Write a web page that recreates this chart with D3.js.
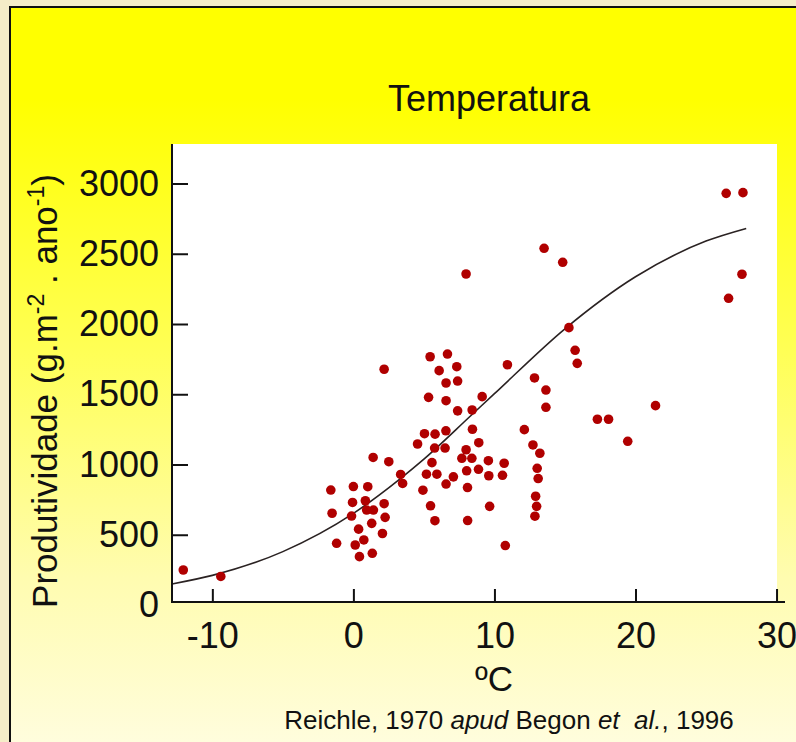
<!DOCTYPE html>
<html>
<head>
<meta charset="utf-8">
<script src="https://cdn.jsdelivr.net/npm/d3@7/dist/d3.min.js"></script>
<style>
body { margin: 0; background: #f5edc8; }
svg text { font-family: "Liberation Sans", Arial, Helvetica, sans-serif; fill: #111; }
</style>
</head>
<body>
<svg id="chart" width="796" height="742"></svg>
<script>
// temperature (ºC) of each site
var temps = [-12.06, -9.40, -1.60, -1.51, -1.19, 0.00, 1.02, -0.06, 0.85, -0.13,
    0.94, 1.42, 2.18, 2.25, 0.37, 1.30, 0.74, 0.13, 2.06, 0.43,
    1.34, 1.40, 2.51, 3.35, 3.49, 4.55, 5.04, 5.79, 6.56, 5.76,
    6.50, 5.57, 5.18, 5.92, 7.09, 6.57, 4.93, 5.47, 5.78, 8.10,
    8.09, 8.03, 8.87, 7.99, 7.69, 8.40, 8.89, 8.44, 5.33, 6.57,
    7.39, 6.57, 7.39, 2.18, 5.44, 6.67, 6.08, 7.33, 9.13, 8.42,
    9.57, 10.69, 9.60, 10.57, 9.66, 10.77, 12.12, 12.73, 13.22, 13.03,
    13.10, 12.92, 12.99, 12.87, 12.84, 13.65, 13.65, 10.92, 13.52, 14.84,
    15.28, 15.72, 15.87, 7.99, 17.30, 18.09, 19.45, 21.42, 26.43, 27.62,
    27.55, 26.60];
// productivity (g.m-2.ano-1)
var prods = [249, 203, 818, 653, 439, 843, 842, 730, 742, 633,
    676, 676, 721, 624, 540, 581, 463, 427, 509, 344,
    368, 1050, 1020, 929, 865, 1146, 1219, 1216, 1240, 1117,
    1117, 1013, 931, 931, 912, 861, 817, 706, 600, 601,
    836, 955, 966, 1105, 1044, 1044, 1155, 1251, 1478, 1454,
    1382, 1580, 1594, 1678, 1767, 1786, 1668, 1696, 1483, 1388,
    1027, 1009, 920, 923, 702, 423, 1248, 1139, 1080, 973,
    900, 774, 702, 632, 1616, 1530, 1407, 1710, 2539, 2439,
    1974, 1813, 1720, 2356, 1322, 1322, 1165, 1419, 2930, 2935,
    2354, 2183];
// fitted curve
var curveTemps = [-12.86, -10, -5, 0, 3.4, 5, 8.3, 10, 15, 20, 25, 27.85];
var curveProds = [150, 211, 380, 652, 905, 1038, 1345, 1504, 1966, 2336, 2590, 2680];

var xTicks = [-10, 0, 10, 20, 30];
var yTicks = [0, 500, 1000, 1500, 2000, 2500, 3000];

var svg = d3.select('#chart');
var W = 796, H = 742;

var x = d3.scaleLinear().domain([-12.86, 30.6]).range([172, 785]);
var y = d3.scaleLinear().domain([0, 3000]).range([605, 183.5]);
var axisY = 602, plotTop = 144, plotRight = 777;

// backdrop panel
var defs = svg.append('defs');
var grad = defs.append('linearGradient').attr('id', 'panelGrad')
    .attr('x1', 0).attr('y1', 0).attr('x2', 0).attr('y2', 1);
[[0, '#ffff00'], [0.12, '#ffff00'], [0.45, '#ffff55'], [0.75, '#fffcb0'], [1, '#fffde4']].forEach(function(s) {
    grad.append('stop').attr('offset', s[0]).attr('stop-color', s[1]);
});

svg.append('rect').attr('width', W).attr('height', H).attr('fill', '#f5edc8');
svg.append('rect')
    .attr('x', 10).attr('y', 7)
    .attr('width', W + 20).attr('height', H + 20)
    .attr('fill', 'url(#panelGrad)')
    .attr('stroke', '#111').attr('stroke-width', 2);

// white plot area
svg.append('rect')
    .attr('x', x.range()[0]).attr('y', plotTop)
    .attr('width', plotRight - x.range()[0]).attr('height', axisY - plotTop)
    .attr('fill', '#ffffff');

// title
svg.append('text')
    .attr('x', 489).attr('y', 111)
    .attr('text-anchor', 'middle')
    .attr('font-size', '36px')
    .text('Temperatura');

// curve
var pts = curveTemps.map(function(t, i) { return [t, curveProds[i]]; });
var line = d3.line()
    .x(function(d) { return x(d[0]); })
    .y(function(d) { return y(d[1]); })
    .curve(d3.curveMonotoneX);
svg.append('path')
    .datum(pts)
    .attr('d', line)
    .attr('fill', 'none')
    .attr('stroke', '#2a2222')
    .attr('stroke-width', 1.6);

// points
var data = temps.map(function(t, i) { return { t: t, p: prods[i] }; });
svg.selectAll('.dot').data(data).enter()
    .append('circle')
    .attr('class', 'dot')
    .attr('cx', function(d) { return x(d.t); })
    .attr('cy', function(d) { return y(d.p); })
    .attr('r', 4.8)
    .attr('fill', '#b00000');

// axes
var gx = svg.append('g')
    .attr('transform', 'translate(0,' + axisY + ')')
    .call(d3.axisBottom(x).tickValues(xTicks).tickSize(-13).tickPadding(20).tickSizeOuter(0)
        .tickFormat(function(d) { return d < 0 ? '-' + Math.abs(d) : d; }));
var gy = svg.append('g')
    .attr('transform', 'translate(' + x.range()[0] + ',0)')
    .call(d3.axisLeft(y).tickValues(yTicks).tickSize(-16).tickPadding(13).tickSizeOuter(0)
        .tickFormat(d3.format('d')));

[gx, gy].forEach(function(g) {
    g.select('.domain').remove();
    g.selectAll('.tick line').attr('stroke', '#111').attr('stroke-width', 2);
    g.selectAll('.tick text').attr('font-size', '36px').attr('fill', '#111')
        .attr('font-family', '"Liberation Sans", Arial, sans-serif');
});
gy.selectAll('.tick').filter(function(d) { return d === 0; }).select('line').remove();

svg.append('line')
    .attr('x1', x.range()[0]).attr('x2', x.range()[0])
    .attr('y1', plotTop).attr('y2', axisY + 1)
    .attr('stroke', '#111').attr('stroke-width', 2);
svg.append('line')
    .attr('x1', x.range()[0] - 1).attr('x2', x.range()[1])
    .attr('y1', axisY).attr('y2', axisY)
    .attr('stroke', '#111').attr('stroke-width', 2);

// axis titles
svg.append('text')
    .attr('x', 494).attr('y', 691)
    .attr('text-anchor', 'middle')
    .attr('font-size', '35px')
    .text('ºC');

var yl = svg.append('text')
    .attr('transform', 'translate(57,' + 391 + ') rotate(-90)')
    .attr('text-anchor', 'middle')
    .attr('font-size', '35px');
yl.append('tspan').text('Produtividade (g.m');
yl.append('tspan').attr('font-size', '23px').attr('dy', -13).text('-2');
yl.append('tspan').attr('dy', 13).text(' . ano');
yl.append('tspan').attr('font-size', '23px').attr('dy', -13).text('-1');
yl.append('tspan').attr('dy', 13).text(')');

// source
var src = svg.append('text')
    .attr('x', 509).attr('y', 729)
    .attr('text-anchor', 'middle')
    .attr('font-size', '26px')
    .style('white-space', 'pre');
src.append('tspan').text('Reichle, 1970 ');
src.append('tspan').attr('font-style', 'italic').text('apud');
src.append('tspan').text(' Begon ');
src.append('tspan').attr('font-style', 'italic').text('et  al.');
src.append('tspan').text(', 1996');
</script>
</body>
</html>
